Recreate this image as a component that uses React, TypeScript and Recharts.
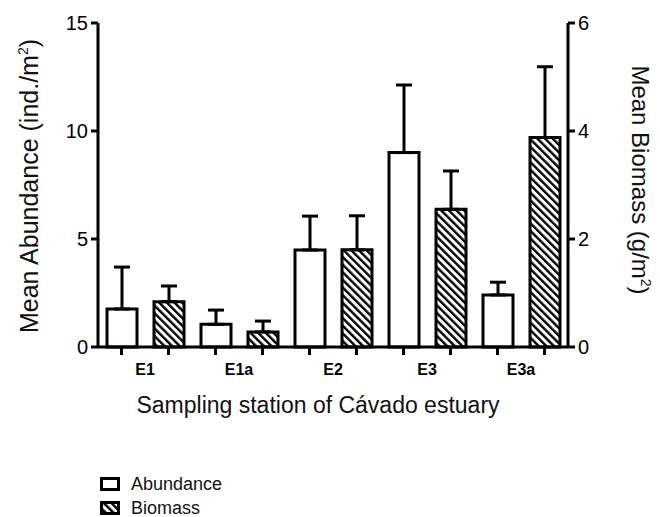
import { BarChart, Bar, XAxis, YAxis, ErrorBar } from 'recharts';

const stations = ['E1', 'E1a', 'E2', 'E3', 'E3a'];
const abundance = [1.76, 1.05, 4.49, 9.0, 2.41];
const abundanceErr = [1.94, 0.66, 1.57, 3.13, 0.59];
const biomass = [0.84, 0.28, 1.8, 2.55, 3.88];
const biomassErr = [0.29, 0.2, 0.63, 0.71, 1.31];

const leftTicks = [0, 5, 10, 15];
const rightTicks = [0, 2, 4, 6];

const FONT = '"Liberation Sans", Arial, Helvetica, sans-serif';

// only the upper half of the error bar is drawn, so low delta is 0
const data = stations.map((s, i) => ({
    station: s,
    abundance: abundance[i],
    abErr: [0, abundanceErr[i]],
    biomass: biomass[i],
    bioErr: [0, biomassErr[i]],
}));

// category label plus one tick under each bar of the group
const StationTick = ({ x, y, payload }: any) => (
    <g>
        <line x1={x - 23.5} x2={x - 23.5} y1={y} y2={y + 8} stroke="#000" strokeWidth={3} />
        <line x1={x + 23.5} x2={x + 23.5} y1={y} y2={y + 8} stroke="#000" strokeWidth={3} />
        <text
            x={x}
            y={y + 28}
            textAnchor="middle"
            fontFamily={FONT}
            fontWeight="bold"
            fontSize={16}
            fill="#000"
        >
            {payload.value}
        </text>
    </g>
);

const tickStyle = { fontSize: 20, fill: '#000', fontFamily: FONT };

const rotated = (left: number, top: number, deg: number): React.CSSProperties => ({
    position: 'absolute',
    left,
    top,
    transform: `translate(-50%, -50%) rotate(${deg}deg)`,
    whiteSpace: 'nowrap',
    fontFamily: FONT,
    fontSize: 24,
    color: '#111',
});

const sup = { fontSize: 14, verticalAlign: 'super' as const, lineHeight: 0 };

export default function App() {
    return (
        <div style={{ position: 'absolute', left: 0, top: 0, width: 660, height: 517, background: '#fff' }}>
            <svg width={0} height={0} style={{ position: 'absolute' }}>
                <defs>
                    <pattern
                        id="hatch"
                        patternUnits="userSpaceOnUse"
                        width={5.4}
                        height={5.4}
                        patternTransform="rotate(-45)"
                    >
                        <rect width={5.4} height={5.4} fill="#fff" />
                        <rect width={2.4} height={5.4} fill="#000" />
                    </pattern>
                </defs>
            </svg>

            <BarChart
                width={660}
                height={517}
                data={data}
                margin={{ top: 23, right: 0, bottom: 110, left: 0 }}
                barGap={17}
            >
                <XAxis
                    dataKey="station"
                    height={60}
                    axisLine={{ stroke: '#000', strokeWidth: 3 }}
                    tickLine={false}
                    tickSize={0}
                    tickMargin={0}
                    tick={<StationTick />}
                    interval={0}
                />
                <YAxis
                    yAxisId="left"
                    width={98}
                    domain={[0, 15]}
                    ticks={leftTicks}
                    axisLine={{ stroke: '#000', strokeWidth: 3 }}
                    tickLine={{ stroke: '#000', strokeWidth: 3 }}
                    tickSize={7}
                    tickMargin={3}
                    tick={tickStyle}
                />
                <YAxis
                    yAxisId="right"
                    orientation="right"
                    width={92}
                    domain={[0, 6]}
                    ticks={rightTicks}
                    axisLine={{ stroke: '#000', strokeWidth: 3 }}
                    tickLine={{ stroke: '#000', strokeWidth: 3 }}
                    tickSize={7}
                    tickMargin={3}
                    tick={tickStyle}
                />
                <Bar
                    yAxisId="left"
                    dataKey="abundance"
                    barSize={30}
                    fill="#fff"
                    stroke="#000"
                    strokeWidth={3}
                    isAnimationActive={false}
                >
                    <ErrorBar dataKey="abErr" width={8} stroke="#000" strokeWidth={3} />
                </Bar>
                <Bar
                    yAxisId="right"
                    dataKey="biomass"
                    barSize={30}
                    fill="url(#hatch)"
                    stroke="#000"
                    strokeWidth={3}
                    isAnimationActive={false}
                >
                    <ErrorBar dataKey="bioErr" width={8} stroke="#000" strokeWidth={3} />
                </Bar>
            </BarChart>

            {/* axis titles */}
            <div style={{ ...rotated(29, 186, -90), fontSize: 25 }}>
                Mean Abundance (ind./m<span style={sup}>2</span>)
            </div>
            <div style={rotated(640, 180, 90)}>
                Mean Biomass (g/m<span style={sup}>2</span>)
            </div>
            <div style={{ ...rotated(318, 405, 0), fontSize: 23 }}>
                Sampling station of Cávado estuary
            </div>

            {/* legend */}
            <div style={{ position: 'absolute', left: 100, top: 472, fontFamily: FONT, fontSize: 18, color: '#111' }}>
                {[
                    { name: 'Abundance', fill: '#fff' },
                    { name: 'Biomass', fill: 'url(#hatch)' },
                ].map((item) => (
                    <div key={item.name} style={{ display: 'flex', alignItems: 'center', height: 24 }}>
                        <svg width={20} height={14} style={{ marginRight: 11 }}>
                            <rect x={1.5} y={1.5} width={17} height={11} fill={item.fill} stroke="#000" strokeWidth={3} />
                        </svg>
                        <span>{item.name}</span>
                    </div>
                ))}
            </div>
        </div>
    );
}
